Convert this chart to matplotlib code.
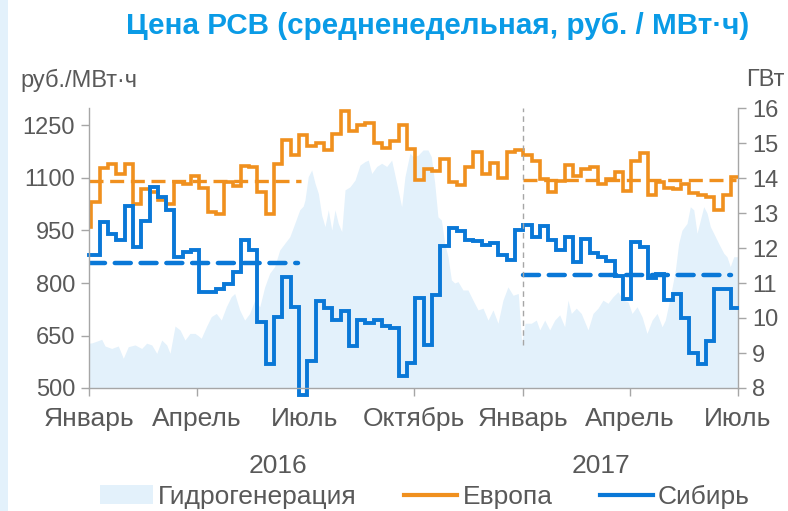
# Цена РСВ: Европа / Сибирь + гидрогенерация

import numpy as np
import matplotlib
matplotlib.use('Agg')
import matplotlib.pyplot as plt
from matplotlib.patches import Patch, Rectangle
from matplotlib.lines import Line2D

plt.rcParams['font.family'] = ['Liberation Sans', 'DejaVu Sans']

# x axis is days since 1 Jan 2016
month_days = [0, 91, 182, 274, 366, 456, 547]
month_labels = ['Январь', 'Апрель', 'Июль', 'Октябрь', 'Январь', 'Апрель', 'Июль']
year_labels = ['2016', '2017']

# weekly prices (руб./МВт·ч), first value is 1-2 Jan
week_days = np.r_[0, 2 + 7 * np.arange(78)]
europe = [959,
          1031, 1129, 1141, 1112, 1141, 1027, 1069, 1060, 1038, 1027,
          1088, 1082, 1107, 1071, 1003, 998, 1088, 1076, 1133, 1131,
          1060, 998, 1141, 1209, 1165, 1224, 1192, 1200, 1179, 1227,
          1290, 1234, 1251, 1258, 1201, 1187, 1206, 1252, 1184, 1095,
          1125, 1119, 1155, 1089, 1081, 1132, 1175, 1112, 1144, 1100,
          1173, 1180, 1165, 1148, 1098, 1060, 1090, 1136, 1107, 1126,
          1132, 1084, 1098, 1117, 1064, 1149, 1172, 1052, 1088, 1071,
          1068, 1082, 1058, 1050, 1047, 1008, 1050, 1104]
siberia = [879,
           879, 973, 941, 922, 1020, 903, 976, 1074, 1046, 1008,
           875, 889, 895, 775, 775, 782, 798, 832, 924, 894,
           689, 570, 703, 817, 732, 480, 576, 749, 730, 694,
           719, 620, 695, 686, 693, 678, 671, 533, 571, 758,
           624, 765, 907, 957, 949, 922, 920, 909, 915, 879,
           866, 950, 966, 931, 964, 922, 895, 932, 859, 927,
           885, 873, 864, 819, 755, 917, 903, 813, 827, 751,
           769, 700, 601, 568, 633, 782, 784, 729]
line_end_day = 546

# average price lines: (value, from day, to day)
europe_avg = [(1090, 0, 179), (1095, 366, 545)]
siberia_avg = [(858, 0, 176), (822, 366, 541)]

# hydro generation, ГВт
hydro_day = [0, 2.5, 10.7, 13.5, 19.1, 24.7, 28.9, 33.1, 38.8, 44.4, 48.6, 52.9, 57.1, 61.3,
             65.5, 68.3, 72.5, 76.7, 80.9, 85.1, 89.3, 91.9, 94.6, 98.9, 103.1, 107.3, 111.5,
             115.7, 119.9, 122.8, 127.0, 131.2, 135.4, 139.7, 143.9, 148.1, 152.3, 156.5,
             160.7, 164.9, 169.2, 173.4, 177.6, 180.6, 182.0, 184.8, 187.7, 190.5, 193.3,
             196.1, 198.9, 201.7, 204.6, 207.3, 210.1, 213.0, 215.8, 220.0, 224.2, 228.4,
             232.6, 235.4, 238.3, 242.5, 246.7, 250.9, 255.1, 259.3, 263.5, 266.3, 270.5,
             273.1, 277.3, 281.5, 285.7, 288.5, 291.4, 294.1, 297.0, 299.8, 302.6, 305.4,
             308.2, 311.0, 315.2, 319.4, 323.6, 327.9, 332.1, 336.3, 340.5, 344.7, 348.9,
             353.1, 357.4, 361.8, 364.7, 367.5, 372.8, 377.0, 379.9, 384.1, 388.3, 392.5,
             396.7, 400.9, 403.7, 406.5, 410.7, 414.9, 420.6, 424.8, 429.0, 433.2, 437.4,
             441.7, 445.9, 450.1, 454.3, 457.7, 461.9, 466.1, 470.3, 474.6, 478.8, 483.0,
             485.7, 490.0, 494.2, 497.0, 499.8, 504.0, 506.8, 509.7, 512.5, 515.3, 518.1,
             520.9, 523.7, 526.5, 530.7, 535.0, 537.7, 540.5, 543.4, 547]
hydro_gw = [9.28, 9.29, 9.39, 9.20, 9.13, 9.20, 8.85, 9.18, 9.23, 9.13, 9.28, 9.23, 8.99, 9.37,
            9.23, 8.99, 9.77, 9.66, 9.37, 9.56, 9.56, 9.50, 9.42, 9.75, 10.04, 10.13, 9.94,
            10.32, 10.61, 10.70, 10.23, 9.94, 10.13, 10.51, 10.32, 10.89, 11.28, 11.47,
            11.94, 12.13, 12.32, 12.70, 13.09, 13.20, 13.37, 14.04, 14.23, 13.85, 13.56,
            12.94, 12.61, 13.09, 12.51, 13.09, 12.70, 12.47, 13.66, 13.75, 13.94, 14.37,
            14.47, 14.51, 14.13, 14.33, 14.42, 14.33, 14.51, 13.85, 13.18, 14.04, 14.71,
            14.61, 14.65, 14.80, 14.80, 14.61, 13.85, 12.89, 12.80, 12.13, 11.75, 11.09,
            11.00, 11.04, 10.80, 10.80, 10.51, 10.23, 10.28, 9.94, 10.23, 9.85, 10.51,
            10.89, 10.65, 10.70, 9.30, 9.85, 9.85, 9.94, 9.66, 9.94, 9.66, 9.94,
            10.09, 9.75, 10.51, 10.13, 10.28, 10.13, 9.66, 10.13, 10.28, 10.51, 10.42,
            10.61, 10.75, 10.51, 10.46, 10.13, 10.32, 10.04, 9.56, 9.94, 10.13, 9.75,
            9.94, 10.61, 11.37, 12.13, 12.51, 12.70, 13.18, 13.09, 12.42, 12.80, 13.18,
            13.00, 12.61, 12.42, 12.13, 11.85, 11.75, 11.47, 11.75, 11.75]

orange = '#F0901E'
blue = '#0A78D7'
hydro_col = '#E3F1FB'
grey_txt = '#595959'
grey_ax = '#A6A6A6'

fig = plt.figure(figsize=(7.88, 5.11), dpi=100)
fig.patches.append(Rectangle((0, 0), 8 / 788, 1, transform=fig.transFigure,
                             facecolor=hydro_col, edgecolor='none'))

ax = fig.add_axes([89 / 788, 1 - 388 / 511, 649 / 788, 280 / 511])
ax2 = ax.twinx()

# hydro area on the right axis, behind the price lines
ax2.fill_between(hydro_day, 8, hydro_gw, color=hydro_col, lw=0)
ax2.set_ylim(8, 16)
ax2.set_yticks(range(8, 17))
ax.set_zorder(ax2.get_zorder() + 1)
ax.patch.set_visible(False)

ax.step(week_days.tolist() + [line_end_day], europe + [europe[-1]], where='post',
        color=orange, lw=2.6, solid_joinstyle='miter')
ax.step(week_days.tolist() + [line_end_day], siberia + [siberia[-1]], where='post',
        color=blue, lw=2.8, solid_joinstyle='miter', clip_on=False)

for val, d0, d1 in europe_avg:
    ax.plot([d0, d1], [val, val], color=orange, lw=2.4, dashes=(4.2, 2.0))
for val, d0, d1 in siberia_avg:
    ax.plot([d0, d1], [val, val], color=blue, lw=3.2, dashes=(3.6, 2.2),
            dash_capstyle='round')

# year separator
ax.vlines(month_days[4], 623, 1300, colors='#A6A6A6', lw=1, linestyles=(0, (4, 3)))

ax.set_xlim(0, 547)
ax.set_ylim(500, 1300)
ax.set_yticks([500, 650, 800, 950, 1100, 1250])
ax.set_xticks(month_days)
ax.set_xticklabels(month_labels)

for a in (ax, ax2):
    for s in a.spines.values():
        s.set_color(grey_ax)
        s.set_linewidth(1)
    a.spines['top'].set_visible(False)
    a.tick_params(colors=grey_ax, labelcolor=grey_txt, labelsize=17,
                  length=6, width=1, direction='out')
ax.spines['right'].set_visible(False)
ax2.spines['left'].set_visible(False)
ax2.spines['bottom'].set_visible(False)
ax.tick_params(axis='x', pad=8, labelsize=19)
ax.tick_params(axis='y', pad=4)
ax2.tick_params(axis='y', pad=4)

fig.text(438 / 788, 1 - 26 / 511, 'Цена РСВ (средненедельная, руб. / МВт·ч)',
         ha='center', va='center', fontsize=21.3, fontweight='bold', color='#0A9BE6')
fig.text(20 / 788, 1 - 80 / 511, 'руб./МВт·ч', ha='left', va='center',
         fontsize=17, color=grey_txt)
fig.text(785 / 788, 1 - 80 / 511, 'ГВт', ha='right', va='center',
         fontsize=17, color=grey_txt)
fig.text(278 / 788, 1 - 466 / 511, year_labels[0], ha='center', va='center',
         fontsize=19, color=grey_txt)
fig.text(601 / 788, 1 - 466 / 511, year_labels[1], ha='center', va='center',
         fontsize=19, color=grey_txt)

handles = [Patch(facecolor=hydro_col, edgecolor='none'),
           Line2D([], [], color=orange, lw=3),
           Line2D([], [], color=blue, lw=3)]
fig.legend(handles, ['Гидрогенерация', 'Европа', 'Сибирь'], loc='center',
           bbox_to_anchor=(425 / 788, 1 - 497 / 511), ncol=3, frameon=False,
           fontsize=19, labelcolor=grey_txt, handlelength=2.0, handleheight=0.75,
           handletextpad=0.2, columnspacing=1.8)

fig.savefig('out.png', dpi=100)
